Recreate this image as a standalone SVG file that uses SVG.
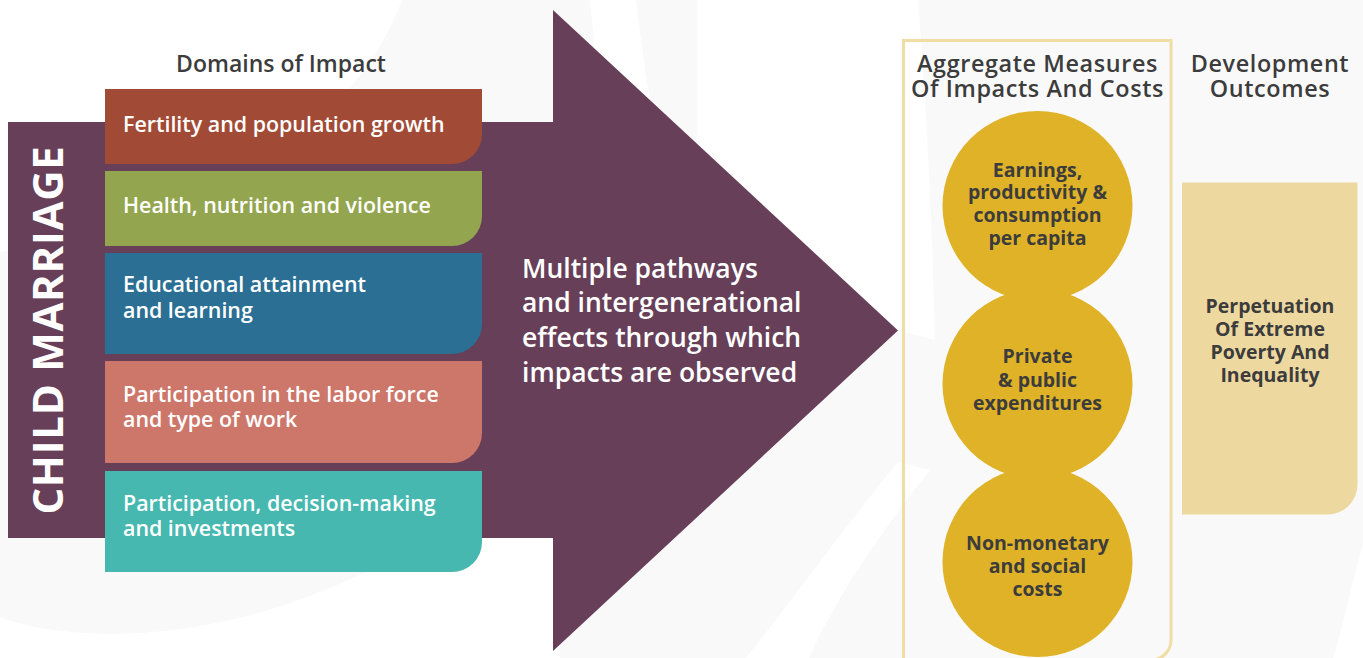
<svg xmlns="http://www.w3.org/2000/svg" width="1363" height="658" viewBox="0 0 1363 658">
<style>
.box-t{font-family:"Open Sans","Liberation Sans",sans-serif;font-size:21.4px;font-weight:600;fill:#ffffff}
.hdr{font-family:"Open Sans","Liberation Sans",sans-serif;font-size:23.4px;font-weight:600;fill:#3c3c3c;letter-spacing:0.6px}
.circ-t{font-family:"Open Sans","Liberation Sans",sans-serif;font-size:19.5px;font-weight:700;fill:#3c3c3c;text-anchor:middle}
.mid-t{font-family:"Open Sans","Liberation Sans",sans-serif;font-size:26.5px;font-weight:600;fill:#ffffff}
.bgw{fill:#ffffff}
.circ{fill:#dfb227}
</style>
<rect x="0" y="0" width="1363" height="658" fill="#f9f9f9"/>
<g id="background">
<path class="bgw" d="M0,0 H402 C375,70 300,200 0,252 Z"/>
<path class="bgw" d="M0,617 C60,640 200,650 357,576 C430,545 500,510 560,470 V658 H0 Z"/>
<path class="bgw" d="M590,0 H636 C641,40 645,70 650,100 L598,100 C596,60 593,30 590,0 Z"/>
<path class="bgw" d="M697,0 H918 C926,100 932,220 935,340 L898,330 L697,143 Z"/>
<path class="bgw" d="M746,658 C800,590 850,520 898,462 L930,470 C875,540 835,600 809,658 Z"/>
<path class="bgw" d="M1333,658 C1345,620 1352,580 1363,545 V658 Z"/>
</g>
<g id="arrow">
<path d="M8,122 H553 V10 L898,330.5 L553,651 V538 H8 Z" fill="#673f58"/>
<text id="child-marriage" transform="translate(63,330) rotate(-90)" text-anchor="middle" font-family="'Open Sans','Liberation Sans',sans-serif" font-size="42" font-weight="700" letter-spacing="0.7" fill="#ffffff">CHILD MARRIAGE</text>
<text class="mid-t"><tspan x="522" y="278">Multiple pathways</tspan><tspan x="522" y="312">and intergenerational</tspan><tspan x="522" y="347">effects through which</tspan><tspan x="522" y="382">impacts are observed</tspan></text>
</g>
<text id="domains-title" class="hdr" x="281" y="72" text-anchor="middle" style="letter-spacing:0;font-size:23px">Domains of Impact</text>
<g id="domain-1">
<path d="M105,89 H482 V134 A30,30 0 0 1 452,164 H105 Z" fill="#a14b37"/>
<text class="box-t" x="123" y="132">Fertility and population growth</text>
</g>
<g id="domain-2">
<path d="M105,171 H482 V216 A30,30 0 0 1 452,246 H105 Z" fill="#93a64f"/>
<text class="box-t" x="123" y="213">Health, nutrition and violence</text>
</g>
<g id="domain-3">
<path d="M105,253 H482 V324 A30,30 0 0 1 452,354 H105 Z" fill="#2b7094"/>
<text class="box-t"><tspan x="123" y="292">Educational attainment</tspan><tspan x="123" y="318">and learning</tspan></text>
</g>
<g id="domain-4">
<path d="M105,361 H482 V433 A30,30 0 0 1 452,463 H105 Z" fill="#cd766a"/>
<text class="box-t"><tspan x="123" y="402">Participation in the labor force</tspan><tspan x="123" y="427">and type of work</tspan></text>
</g>
<g id="domain-5">
<path d="M105,471 H482 V542 A30,30 0 0 1 452,572 H105 Z" fill="#46b8b0"/>
<text class="box-t"><tspan x="123" y="511">Participation, decision-making</tspan><tspan x="123" y="536">and investments</tspan></text>
</g>
<g id="aggregate-frame">
<path d="M903.5,668 V40.5 H1171 V640 A20,20 0 0 1 1151,660 H903.5" fill="none" stroke="#f0dca5" stroke-width="3"/>
<text class="hdr" text-anchor="middle"><tspan x="1037.5" y="72">Aggregate Measures</tspan><tspan x="1037.5" y="97">Of Impacts And Costs</tspan></text>
</g>
<g id="measure-1">
<circle class="circ" cx="1037.5" cy="206" r="95"/>
<text class="circ-t"><tspan x="1037.5" y="177">Earnings,</tspan><tspan x="1037.5" y="199">productivity &amp;</tspan><tspan x="1037.5" y="222">consumption</tspan><tspan x="1037.5" y="245">per capita</tspan></text>
</g>
<g id="measure-2">
<circle class="circ" cx="1037.5" cy="384" r="95"/>
<text class="circ-t"><tspan x="1037.5" y="363">Private</tspan><tspan x="1037.5" y="387">&amp; public</tspan><tspan x="1037.5" y="410">expenditures</tspan></text>
</g>
<g id="measure-3">
<circle class="circ" cx="1037.5" cy="562" r="95"/>
<text class="circ-t"><tspan x="1037.5" y="550">Non-monetary</tspan><tspan x="1037.5" y="573">and social</tspan><tspan x="1037.5" y="596">costs</tspan></text>
</g>
<text id="dev-title" class="hdr" text-anchor="middle"><tspan x="1270" y="72">Development</tspan><tspan x="1270" y="97">Outcomes</tspan></text>
<g id="outcome">
<path d="M1182,182.5 H1357.5 V484.5 A30,30 0 0 1 1327.5,514.5 H1182 Z" fill="#edd9a0"/>
<text class="circ-t"><tspan x="1270" y="313">Perpetuation</tspan><tspan x="1270" y="336">Of Extreme</tspan><tspan x="1270" y="359">Poverty And</tspan><tspan x="1270" y="382">Inequality</tspan></text>
</g>
<g id="connectors"></g>
</svg>
